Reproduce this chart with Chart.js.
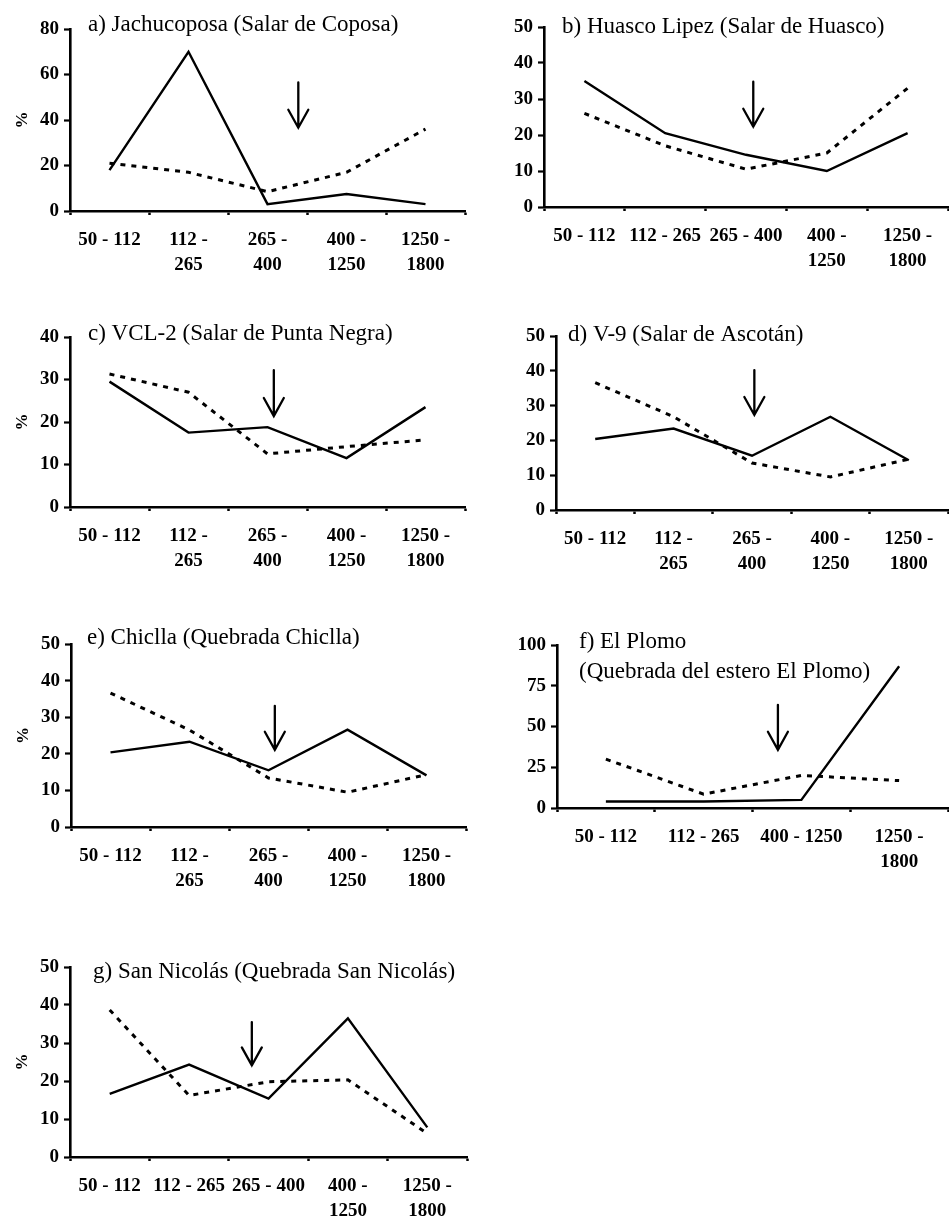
<!DOCTYPE html>
<html><head><meta charset="utf-8">
<script src="https://cdn.jsdelivr.net/npm/chart.js@4.4.1/dist/chart.umd.min.js"></script>
<style>
html,body{margin:0;padding:0;background:#fff;}
body{width:949px;height:1216px;position:relative;overflow:hidden;}
canvas{position:absolute;}
</style></head><body>
<script>
// ---------- DATA ----------
const catsTwoLine = ['50 - 112', ['112 -', '265'], ['265 -', '400'], ['400 -', '1250'], ['1250 -', '1800']];
const catsOneLine = ['50 - 112', '112 - 265', '265 - 400', ['400 -', '1250'], ['1250 -', '1800']];
const catsPlomo = ['50 - 112', '112 - 265', '400 - 1250', ['1250 -', '1800']];

const titleA = ['a) Jachucoposa (Salar de Coposa)'];
const titleB = ['b) Huasco Lipez (Salar de Huasco)'];
const titleC = ['c) VCL-2 (Salar de Punta Negra)'];
const titleD = ['d) V-9 (Salar de Ascotán)'];
const titleE = ['e) Chiclla (Quebrada Chiclla)'];
const titleF = ['f) El Plomo', '(Quebrada del estero El Plomo)'];
const titleG = ['g) San Nicolás (Quebrada San Nicolás)'];

const solidA = [18, 70, 3, 7.5, 3];
const dashedA = [21, 17, 8.5, 17, 36];
const solidB = [35, 20.5, 14.5, 10, 20.5];
const dashedB = [26, 17, 10.5, 15, 33];
const solidC = [29.5, 17.5, 18.8, 11.5, 23.5];
const dashedC = [31.3, 27, 12.5, 14.2, 15.8];
const solidD = [20.4, 23.4, 15.6, 26.8, 14.3];
const dashedD = [36.6, 26.8, 13.5, 9.5, 14.6];
const solidE = [20.4, 23.3, 15.5, 26.6, 14.1];
const dashedE = [36.6, 26.5, 13.4, 9.5, 14.3];
const solidF = [4, 4, 5, 87];
const dashedF = [30, 8.5, 20, 16.8];
const solidG = [16.6, 24.3, 15.4, 36.5, 7.8];
const dashedG = [38.7, 16.2, 19.8, 20.3, 6.2];

// arrow: [category position, top value %, tip value %]
const arrowA = [2.39, 56.5, 36.6];
const arrowB = [2.09, 34.8, 22.3];
const arrowC = [2.08, 32.2, 21.4];
const arrowD = [2.03, 40.2, 27.3];
const arrowE = [2.08, 33.1, 21.1];
const arrowF = [1.76, 63.3, 35.7];
const arrowG = [1.79, 35.5, 24.1];

const yMaxes = [80, 50, 40, 50, 50, 100, 50];
const ySteps = [20, 10, 10, 10, 10, 25, 10];

// ---------- LAYOUT / STYLE ----------
const FONT = "'Liberation Serif', 'Times New Roman', serif";
const panels = [
  {rect:[70,29,465,211],  labels:catsTwoLine, solid:solidA, dashed:dashedA, arrow:arrowA, title:titleA, ylab:true,  tdx:18, tdy:-4},
  {rect:[544,27,948,207], labels:catsOneLine, solid:solidB, dashed:dashedB, arrow:arrowB, title:titleB, ylab:false, tdx:18, tdy:0},
  {rect:[70,337,465,507], labels:catsTwoLine, solid:solidC, dashed:dashedC, arrow:arrowC, title:titleC, ylab:true,  tdx:18, tdy:-3},
  {rect:[556,336,948,510],labels:catsTwoLine, solid:solidD, dashed:dashedD, arrow:arrowD, title:titleD, ylab:false, tdx:12, tdy:-1},
  {rect:[71,644,466,827], labels:catsTwoLine, solid:solidE, dashed:dashedE, arrow:arrowE, title:titleE, ylab:true,  tdx:16, tdy:-6},
  {rect:[557,645,948,808],labels:catsPlomo,   solid:solidF, dashed:dashedF, arrow:arrowF, title:titleF, ylab:false, tdx:22, tdy:-3},
  {rect:[70,967,467,1157],labels:catsOneLine, solid:solidG, dashed:dashedG, arrow:arrowG, title:titleG, ylab:true,  tdx:23, tdy:5}
];

const panelDecor = {
  id: 'panelDecor',
  afterDatasetsDraw(chart, args, opts) {
    const {ctx, chartArea, scales} = chart;
    const x = scales.x, y = scales.y;
    const ax = x.getPixelForValue(opts.arrow[0]);
    const y1 = y.getPixelForValue(opts.arrow[1]);
    const y2 = y.getPixelForValue(opts.arrow[2]);
    ctx.save();
    ctx.strokeStyle = '#000';
    ctx.lineWidth = 2.3;
    ctx.lineCap = 'round';
    ctx.lineJoin = 'miter';
    ctx.beginPath();
    ctx.moveTo(ax, y1); ctx.lineTo(ax, y2);
    ctx.moveTo(ax - 10, y2 - 18); ctx.lineTo(ax, y2); ctx.lineTo(ax + 10, y2 - 18);
    ctx.stroke();
    ctx.fillStyle = '#000';
    ctx.font = '23px ' + FONT;
    ctx.textBaseline = 'middle';
    ctx.textAlign = 'left';
    opts.title.forEach((t, i) => ctx.fillText(t, chartArea.left + opts.tdx, chartArea.top + opts.tdy + i * 30));
    ctx.restore();
  }
};

const YW = 65, PT = 20, XH = 75;
panels.forEach((p, i) => {
  const [L, T, R, B] = p.rect;
  const padR = R > 900 ? 949 - R : 10;
  const c = document.createElement('canvas');
  const w = R - L + YW + padR, h = B - T + PT + XH;
  c.width = w; c.height = h;
  c.style.left = (L - YW) + 'px'; c.style.top = (T - PT) + 'px';
  c.style.width = w + 'px'; c.style.height = h + 'px';
  document.body.appendChild(c);
  const tickFont = {family: FONT, size: 19, weight: 'bold', lineHeight: 1.3};
  new Chart(c, {
    type: 'line',
    data: {
      labels: p.labels,
      datasets: [
        {data: p.solid, borderColor: '#000', borderWidth: 2.4, pointRadius: 0, tension: 0, fill: false},
        {data: p.dashed, borderColor: '#000', borderWidth: 3, borderDash: [5, 6], pointRadius: 0, tension: 0, fill: false}
      ]
    },
    options: {
      responsive: false, animation: false, events: [],
      layout: {padding: {left: 0, top: PT, right: padR, bottom: 0}},
      plugins: {
        legend: {display: false}, tooltip: {enabled: false},
        panelDecor: {arrow: p.arrow, title: p.title, tdx: p.tdx, tdy: p.tdy}
      },
      scales: {
        x: {
          type: 'category', offset: true,
          grid: {offset: true, drawOnChartArea: false, drawTicks: true, tickLength: 4, tickWidth: 2.5, tickColor: '#000'},
          border: {display: true, color: '#000', width: 2.6},
          ticks: {color: '#000', font: tickFont, padding: 13, maxRotation: 0, autoSkip: false},
          afterFit(s) { s.height = XH; }
        },
        y: {
          min: 0, max: yMaxes[i],
          ticks: {stepSize: ySteps[i], color: '#000', font: tickFont, padding: 5},
          grid: {drawOnChartArea: false, drawTicks: true, tickLength: 6, tickWidth: 2.2, tickColor: '#000'},
          border: {display: true, color: '#000', width: 2.6},
          title: {display: p.ylab, text: '%', color: '#000', font: {family: FONT, size: 17, weight: 'bold'}, padding: {top: 7, bottom: 0}},
          afterFit(s) { s.width = YW; }
        }
      }
    },
    plugins: [panelDecor]
  });
});
</script>
</body></html>
